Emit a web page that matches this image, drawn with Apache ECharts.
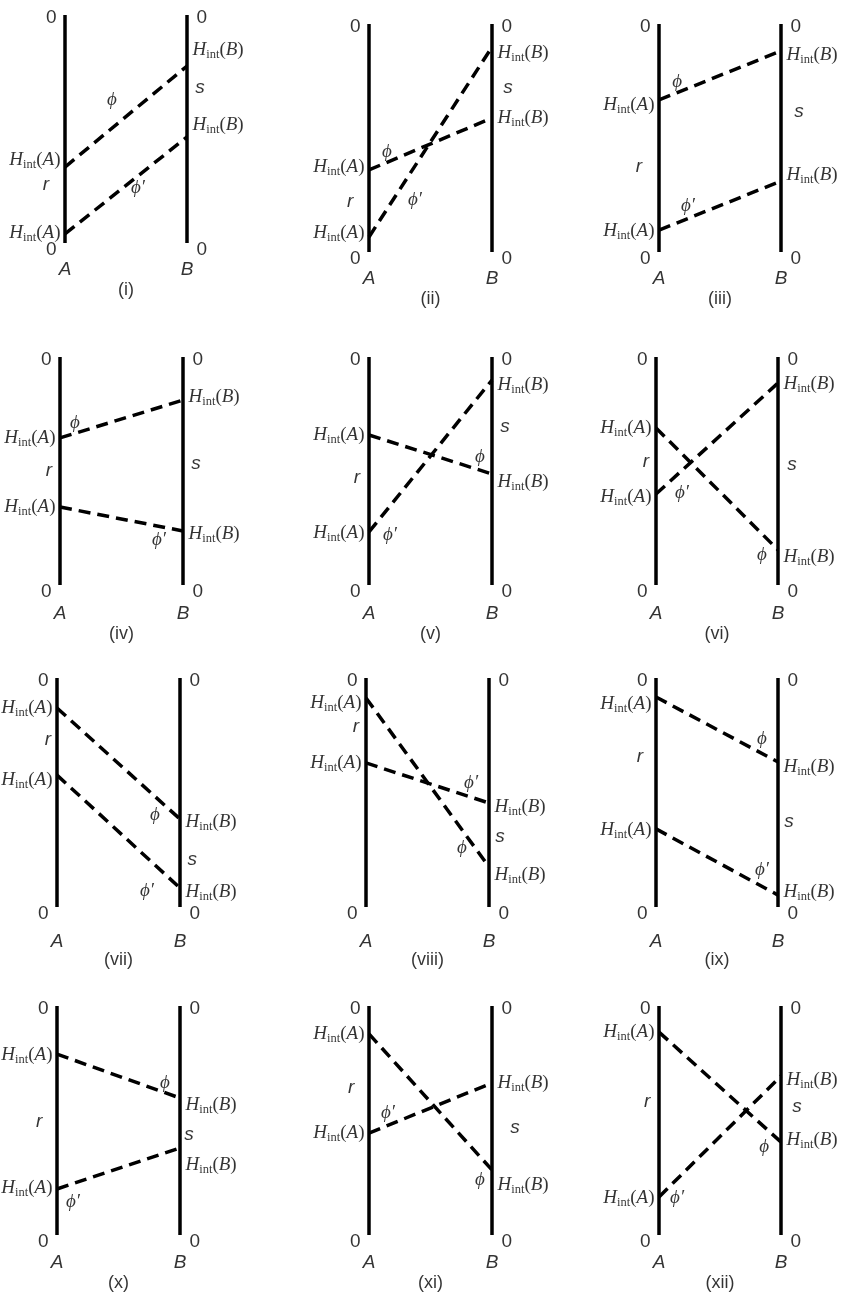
<!DOCTYPE html>
<html><head><meta charset="utf-8">
<script src="https://cdn.jsdelivr.net/npm/echarts@6/dist/echarts.min.js"></script>
<style>html,body{margin:0;padding:0;background:#fff}#c{width:841px;height:1297px}</style>
</head><body><div id="c"></div>
<script>
// ---- data (normalised depth on each axis: 0 = top, 1 = bottom) ----
const panelNames = ['(i)','(ii)','(iii)','(iv)','(v)','(vi)','(vii)','(viii)','(ix)','(x)','(xi)','(xii)'];
const axisNames = ['A','B'];
const tickLabel = '0';
const phiA  = [0.667,0.640,0.333,0.355,0.342,0.311,0.131,0.087,0.083,0.210,0.122,0.114];
const phiB  = [0.224,0.412,0.118,0.189,0.513,0.846,0.616,0.825,0.367,0.402,0.716,0.594];
const phiPA = [0.960,0.934,0.904,0.658,0.767,0.601,0.424,0.371,0.659,0.799,0.555,0.834];
const phiPB = [0.535,0.101,0.689,0.763,0.101,0.114,0.917,0.546,0.948,0.620,0.336,0.306];

// ---- layout ----
const geom = [ // [A x, B x, top, bottom] in px
  [65,187,15,243],[369,492,24,252],[659,781,24,252],
  [60,183,357,585],[369,492,357,585],[656,778,357,585],
  [57,180,678,907],[366,489,678,907],[656,778,678,907],
  [57,180,1006,1235],[369,492,1006,1235],[659,781,1006,1235]
];
const dyAphi  = [-7,-3,5,0,0,0,0,5,7,1,0,0];
const dyAphiP = [-1,-4,1,0,1,3,5,0,1,-1,0,1];
const dyBphi  = [-16,0,4,-3,8,7,3,8,5,7,15,-2];
const dyBphiP = [-12,6,-6,3,5,1,4,4,-3,17,0,4];
const rPos = [[-0.156,0.746],[-0.154,0.78],[-0.164,0.627],[-0.09,0.5],[-0.098,0.531],[-0.082,0.46],[-0.073,0.271],[-0.081,0.214],[-0.131,0.345],[-0.146,0.507],[-0.146,0.358],[-0.098,0.419]];
const sPos = [[1.107,0.32],[1.13,0.281],[1.148,0.386],[1.106,0.469],[1.106,0.307],[1.115,0.474],[1.1,0.795],[1.089,0.694],[1.09,0.629],[1.073,0.563],[1.187,0.533],[1.131,0.441]];
const phiPos = [[0.385,0.373],[0.146,0.561],[0.148,0.254],[0.122,0.289],[0.902,0.439],[0.869,0.868],[0.797,0.598],[0.78,0.742],[0.869,0.266],[0.878,0.336],[0.902,0.76],[0.861,0.616]];
const phiPPos = [[0.598,0.759],[0.374,0.772],[0.238,0.798],[0.805,0.803],[0.171,0.781],[0.213,0.596],[0.732,0.93],[0.854,0.459],[0.869,0.838],[0.13,0.856],[0.154,0.467],[0.148,0.838]];
const letterDy = [27,29,35,28];
const romanDy = [47,49,53,48];

const SANS = 'Liberation Sans, Arial, sans-serif';
const SERIF = 'Liberation Serif, DejaVu Serif, serif';
const hRich = {
  h:{fontFamily:SERIF,fontStyle:'italic',fontSize:19,lineHeight:22,color:'#000'},
  sub:{fontFamily:SERIF,fontSize:12.5,lineHeight:11,verticalAlign:'bottom',color:'#000'},
  p:{fontFamily:SERIF,fontSize:19,lineHeight:22,color:'#000'},
  it:{fontFamily:SERIF,fontStyle:'italic',fontSize:19,lineHeight:22,color:'#000'}
};
function hLabel(which){ return '{h|H}{sub|int}{p|(}{it|'+which+'}{p|)}'; }

const X0=-0.4, X1=1.4, Y0=-0.05, Y1=1.2;
const grids=[], xAxes=[], yAxes=[], series=[];
geom.forEach((g,i)=>{
  const [ax,bx,top,bot]=g; const W=bx-ax, H=bot-top; const row=Math.floor(i/3);
  grids.push({left:ax+X0*W, top:top+Y0*H, width:(X1-X0)*W, height:(Y1-Y0)*H, containLabel:false});
  xAxes.push({type:'value',gridIndex:i,min:X0,max:X1,show:false});
  yAxes.push({type:'value',gridIndex:i,min:Y0,max:Y1,inverse:true,show:false});
  const base = {xAxisIndex:i,yAxisIndex:i,animation:false,silent:true,clip:false};
  // A and B lines
  [0,1].forEach(x=>series.push(Object.assign({type:'line',data:[[x,0],[x,1]],symbol:'none',
    lineStyle:{color:'#000',width:3.5,cap:'butt'}},base)));
  // dashed links
  [[phiA[i],phiB[i]],[phiPA[i],phiPB[i]]].forEach(p=>series.push(Object.assign({type:'line',
    data:[[0,p[0]],[1,p[1]]],symbol:'none',lineStyle:{color:'#000',width:3.5,type:[12,7],cap:'butt'}},base)));
  // text
  const T = [];
  const txt = (val,lab)=>T.push({value:val,label:Object.assign({show:true,color:'#000'},lab)});
  const zero = {formatter:tickLabel,fontFamily:SANS,fontSize:19};
  txt([0,0],Object.assign({position:'left',distance:8,offset:[0,3]},zero));
  txt([0,1],Object.assign({position:'left',distance:8,offset:[0,7]},zero));
  txt([1,0],Object.assign({position:'right',distance:9,offset:[0,3]},zero));
  txt([1,1],Object.assign({position:'right',distance:9,offset:[0,7]},zero));
  txt([0,1],{position:'inside',offset:[0,letterDy[row]],formatter:axisNames[0],fontFamily:SANS,fontStyle:'italic',fontSize:19});
  txt([1,1],{position:'inside',offset:[0,letterDy[row]],formatter:axisNames[1],fontFamily:SANS,fontStyle:'italic',fontSize:19});
  txt([0.5,1],{position:'inside',offset:[0,romanDy[row]],formatter:panelNames[i],fontFamily:SANS,fontSize:18});
  txt([0,phiA[i]],{position:'left',distance:4,offset:[0,dyAphi[i]],formatter:hLabel('A'),rich:hRich});
  txt([0,phiPA[i]],{position:'left',distance:4,offset:[0,dyAphiP[i]],formatter:hLabel('A'),rich:hRich});
  txt([1,phiB[i]],{position:'right',distance:5,offset:[0,dyBphi[i]],formatter:hLabel('B'),rich:hRich});
  txt([1,phiPB[i]],{position:'right',distance:5,offset:[0,dyBphiP[i]],formatter:hLabel('B'),rich:hRich});
  txt(rPos[i],{position:'inside',formatter:'r',fontFamily:SANS,fontStyle:'italic',fontSize:19});
  txt(sPos[i],{position:'inside',formatter:'s',fontFamily:SANS,fontStyle:'italic',fontSize:19});
  txt(phiPos[i],{position:'inside',formatter:'ϕ',fontFamily:SERIF,fontStyle:'italic',fontSize:19});
  txt(phiPPos[i],{position:'inside',formatter:'ϕ′',fontFamily:SERIF,fontStyle:'italic',fontSize:19});
  series.push(Object.assign({type:'scatter',data:T,symbolSize:1,itemStyle:{color:'rgba(0,0,0,0)'},z:5},base));
});

const chart = echarts.init(document.getElementById('c'));
chart.setOption({backgroundColor:'#fff',animation:false,grid:grids,xAxis:xAxes,yAxis:yAxes,series:series});
</script></body></html>
